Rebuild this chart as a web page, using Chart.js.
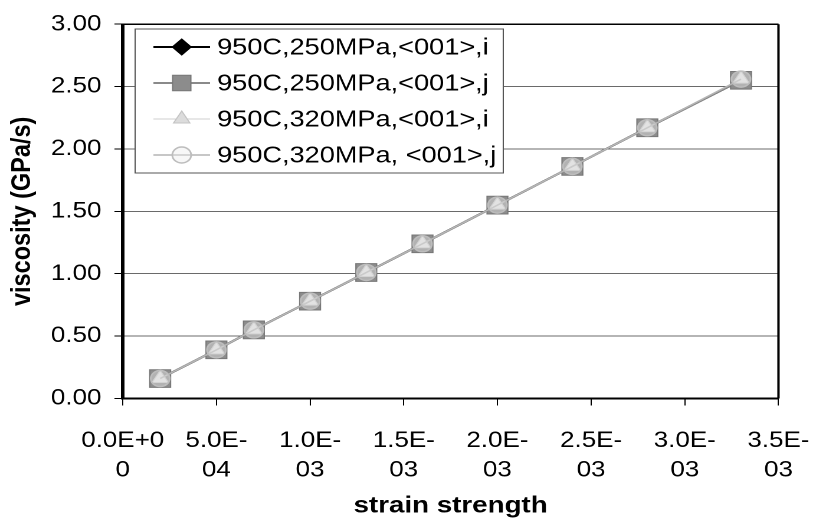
<!DOCTYPE html>
<html>
<head>
<meta charset="utf-8">
<script src="https://cdn.jsdelivr.net/npm/chart.js@4.4.0/dist/chart.umd.min.js"></script>
<style>
  html, body { margin: 0; padding: 0; background: #fff; overflow: hidden; }
  /* the original figure is a horizontally stretched Excel chart */
  #wrap { width: 707px; height: 524px; transform: scaleX(1.18); transform-origin: 0 0; }
</style>
</head>
<body>
<div id="wrap"><canvas id="viscChart"></canvas></div>
<script>
// values
const strain = [2.0e-4, 5.0e-4, 7.0e-4, 1.0e-3, 1.3e-3, 1.6e-3, 2.0e-3, 2.4e-3, 2.8e-3, 3.3e-3];
const visc250i = [0.16, 0.39, 0.55, 0.78, 1.01, 1.24, 1.55, 1.86, 2.17, 2.55];
const visc250j = [0.16, 0.39, 0.55, 0.78, 1.01, 1.24, 1.55, 1.86, 2.17, 2.55];
const visc320i = [0.16, 0.39, 0.55, 0.78, 1.01, 1.24, 1.55, 1.86, 2.17, 2.56];
const visc320j = [0.16, 0.39, 0.55, 0.78, 1.01, 1.24, 1.55, 1.86, 2.17, 2.56];
const seriesNames = ['950C,250MPa,<001>,i', '950C,250MPa,<001>,j', '950C,320MPa,<001>,i', '950C,320MPa, <001>,j'];

const xTickValues = [0, 0.0005, 0.001, 0.0015, 0.002, 0.0025, 0.003, 0.0035];
const xTickLabels = [['0.0E+0', '0'], ['5.0E-', '04'], ['1.0E-', '03'], ['1.5E-', '03'],
                     ['2.0E-', '03'], ['2.5E-', '03'], ['3.0E-', '03'], ['3.5E-', '03']];
const yTickValues = [0, 0.5, 1, 1.5, 2, 2.5, 3];

const FONT = 'Liberation Sans, Arial, sans-serif';

function pts(ys) {
    return strain.map((x, i) => ({ x: x, y: ys[i] }));
}

const styles = [
    { line: '#000000', lw: 2, shape: 'rectRot', r: 8, fill: '#000000', stroke: '#000000', bw: 1 },
    { line: '#8a8a8a', lw: 2, shape: 'rect', r: 12.5, fill: '#8c8c8c', stroke: '#777777', bw: 1 },
    { line: '#d0d0d0', lw: 1, shape: 'triangle', r: 8, fill: '#dcdcdc', stroke: '#c4c4c4', bw: 1 },
    { line: '#b5b5b5', lw: 1.5, shape: 'circle', r: 8, fill: 'rgba(235,235,235,0.4)', stroke: '#bdbdbd', bw: 1.5 }
];
const allSeries = [visc250i, visc250j, visc320i, visc320j];

const datasets = allSeries.map((ys, i) => ({
    label: seriesNames[i],
    data: pts(ys),
    borderColor: styles[i].line,
    borderWidth: styles[i].lw,
    pointStyle: styles[i].shape,
    pointRadius: styles[i].r,
    pointBackgroundColor: styles[i].fill,
    pointBorderColor: styles[i].stroke,
    pointBorderWidth: styles[i].bw,
    tension: 0,
    fill: false,
    order: 3 - i   // later series sit on top, like in Excel
}));

// black frame round the plot area
const framePlugin = {
    id: 'frame',
    beforeDatasetsDraw(chart) {
        const { ctx, chartArea: a } = chart;
        ctx.save();
        ctx.strokeStyle = '#000';
        ctx.lineWidth = 1.5;
        ctx.beginPath(); ctx.moveTo(a.left, a.top); ctx.lineTo(a.right, a.top); ctx.stroke();
        ctx.lineWidth = 2;
        ctx.beginPath(); ctx.moveTo(a.right, a.top); ctx.lineTo(a.right, a.bottom); ctx.stroke();
        ctx.beginPath(); ctx.moveTo(a.left, a.bottom); ctx.lineTo(a.right, a.bottom); ctx.stroke();
        ctx.lineWidth = 3;
        ctx.beginPath(); ctx.moveTo(a.left, a.top - 0.75); ctx.lineTo(a.left, a.bottom + 1); ctx.stroke();
        ctx.restore();
    }
};

// legend box inside the plot, line + marker per entry
const legendPlugin = {
    id: 'boxLegend',
    afterDraw(chart) {
        const ctx = chart.ctx;
        const bx = 114.5, by = 29, bw = 312, bh = 144;
        ctx.save();
        ctx.fillStyle = '#fff';
        ctx.fillRect(bx, by, bw, bh);
        ctx.strokeStyle = '#555';
        ctx.lineWidth = 1;
        ctx.strokeRect(bx, by, bw, bh);
        ctx.font = '23px ' + FONT;
        ctx.textBaseline = 'middle';
        seriesNames.forEach((name, i) => {
            const y = 47 + i * 36;
            const s = styles[i];
            ctx.strokeStyle = s.line;
            ctx.lineWidth = s.lw;
            ctx.beginPath(); ctx.moveTo(130, y); ctx.lineTo(178, y); ctx.stroke();
            ctx.fillStyle = s.fill;
            ctx.strokeStyle = s.stroke;
            ctx.lineWidth = s.bw;
            Chart.helpers.drawPoint(ctx, { pointStyle: s.shape, radius: s.shape === 'rect' ? 11 : s.r, borderWidth: s.bw, rotation: 0 }, 154, y);
            ctx.fillStyle = '#000';
            ctx.fillText(name, 184, y + 1);
        });
        ctx.restore();
    }
};

const ctx = document.getElementById('viscChart').getContext('2d');
new Chart(ctx, {
    type: 'line',
    data: { datasets: datasets },
    options: {
        responsive: true,
        maintainAspectRatio: false,
        animation: false,
        devicePixelRatio: 2,
        layout: { padding: { top: 18, right: 28, bottom: 0, left: 0 } },
        plugins: { legend: { display: false }, tooltip: { enabled: false } },
        scales: {
            x: {
                type: 'linear',
                min: 0,
                max: 0.0035,
                afterBuildTicks: s => { s.ticks = xTickValues.map(v => ({ value: v })); },
                afterFit: s => { s.height = 125.5; },
                ticks: {
                    autoSkip: false,
                    maxRotation: 0,
                    padding: 21,
                    color: '#000',
                    font: { family: FONT, size: 22, lineHeight: 1.33 },
                    callback: (v, i) => xTickLabels[i]
                },
                grid: { drawOnChartArea: false, tickLength: 7, tickColor: '#000', tickWidth: 1 },
                border: { display: false },
                title: {
                    display: true,
                    text: 'strain strength',
                    color: '#000',
                    font: { family: FONT, size: 23.5, weight: 'bold' },
                    padding: { top: 0, bottom: 4 }
                }
            },
            y: {
                min: 0,
                max: 3,
                afterBuildTicks: s => { s.ticks = yTickValues.map(v => ({ value: v })); },
                afterFit: s => { s.width = 104; },
                ticks: {
                    padding: 11,
                    color: '#000',
                    font: { family: FONT, size: 22 },
                    callback: v => v.toFixed(2)
                },
                grid: { color: '#6a6a6a', lineWidth: 1, tickLength: 7, tickColor: '#000', tickWidth: 1 },
                border: { display: false },
                title: {
                    display: true,
                    text: 'viscosity (GPa/s)',
                    color: '#000',
                    font: { family: FONT, size: 23.5, weight: 'bold' },
                    padding: { top: 5, bottom: 0 }
                }
            }
        }
    },
    plugins: [framePlugin, legendPlugin]
});
</script>
</body>
</html>
